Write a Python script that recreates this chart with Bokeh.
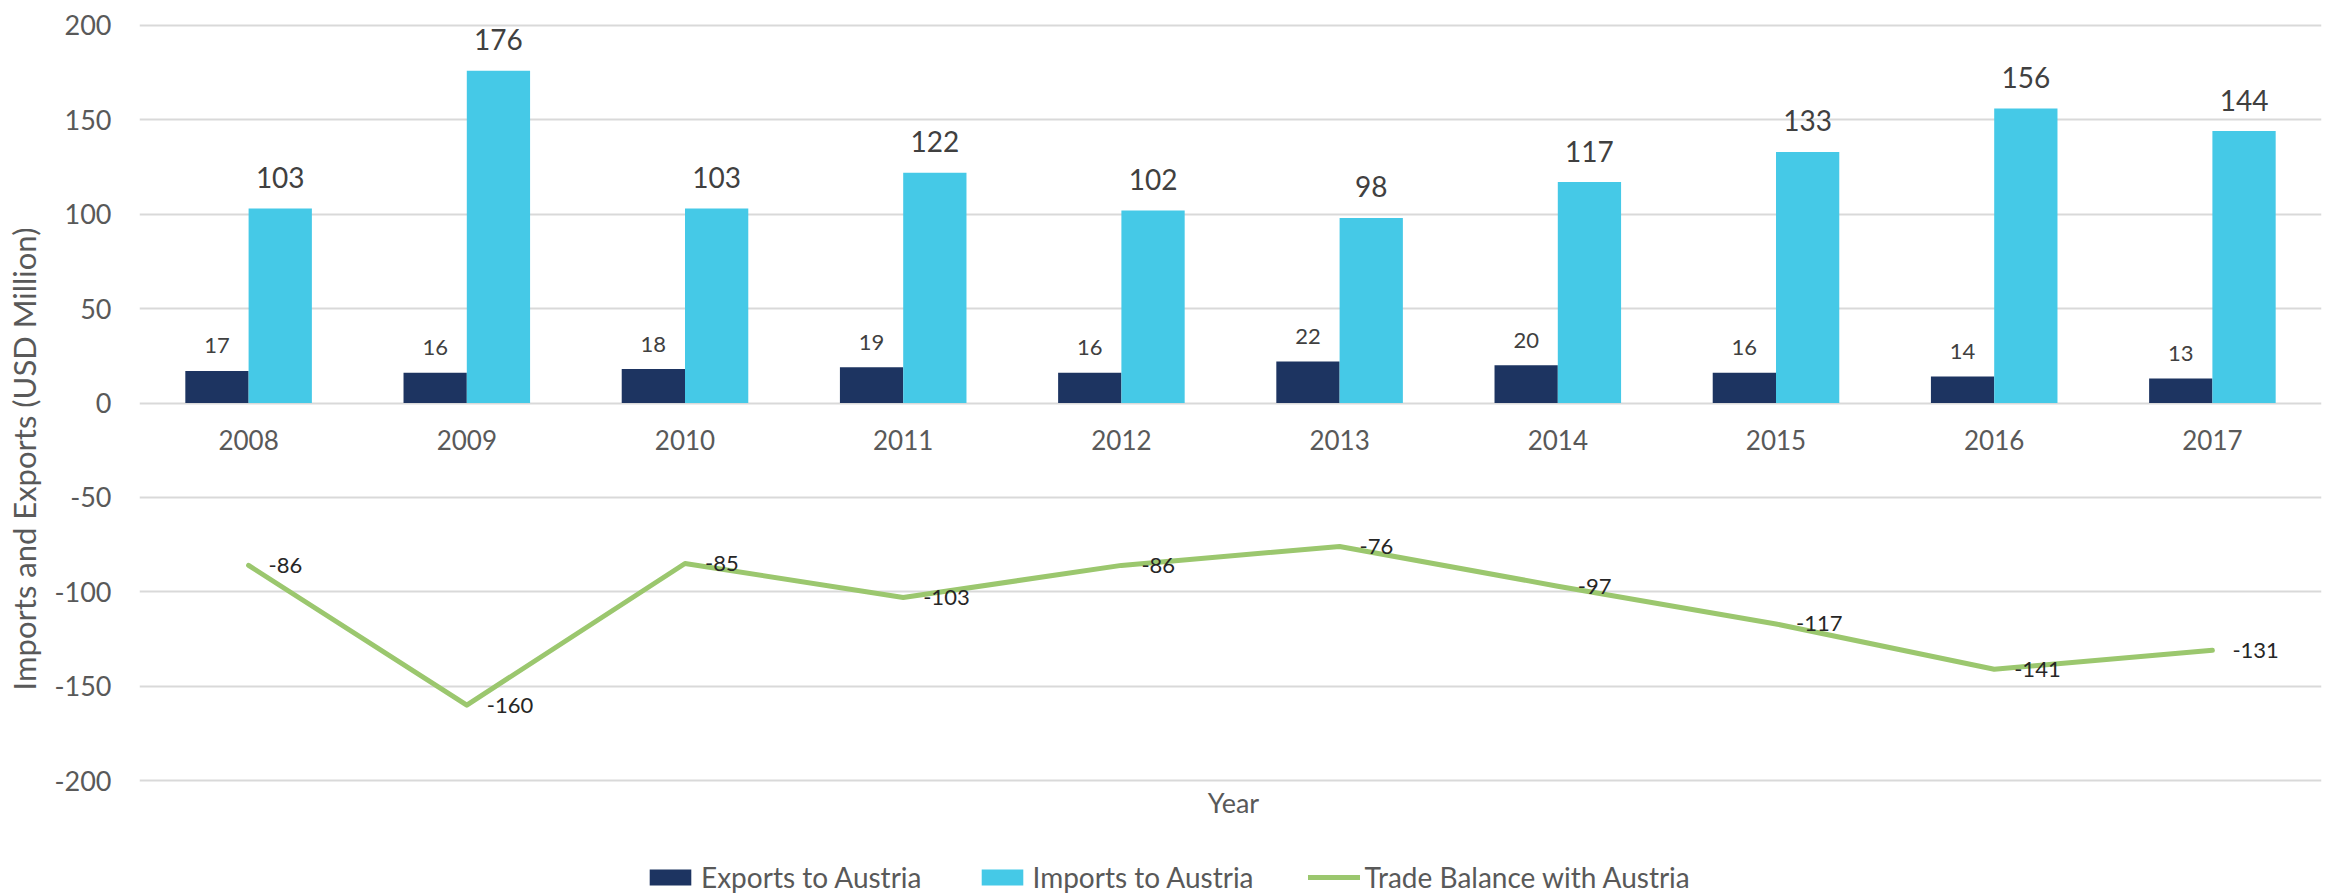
from bokeh.plotting import figure
from bokeh.models import (ColumnDataSource, FactorRange, Range1d, FixedTicker, Legend,
                          LegendItem, PrintfTickFormatter, Label)
from bokeh.transform import dodge
from bokeh.core.properties import value
from bokeh.embed import file_html
from bokeh.resources import INLINE

years = ["2008", "2009", "2010", "2011", "2012", "2013", "2014", "2015", "2016", "2017"]
exports = [17, 16, 18, 19, 16, 22, 20, 16, 14, 13]
imports = [103, 176, 103, 122, 102, 98, 117, 133, 156, 144]
balance = [-86, -160, -85, -103, -86, -76, -97, -117, -141, -131]
y_ticks = [-200, -150, -100, -50, 0, 50, 100, 150, 200]

FONT = "Lato"
NAVY = "#1D3461"
CYAN = "#45C9E7"
GREEN = "#9BC76E"
GREY = "#595959"
DARK = "#404040"

src = ColumnDataSource(dict(
    year=years, exports=exports, imports=imports, balance=balance,
    exp_lbl=[str(v) for v in exports],
    imp_lbl=[str(v) for v in imports],
    bal_lbl=[str(v) for v in balance],
    base=[0] * len(years),
))

# frame runs to the bottom edge so the legend and x title can sit inside it
p = figure(frame_width=2182, frame_height=871,
           x_range=FactorRange(*years, range_padding=0),
           y_range=Range1d(-260.3, 201),
           output_backend="svg", toolbar_location=None,
           min_border_left=139, min_border_right=7,
           min_border_top=23, min_border_bottom=0)
p.outline_line_color = None
p.background_fill_color = "white"
p.border_fill_color = "white"
p.xaxis.visible = False

# grid
p.xgrid.grid_line_color = None
p.ygrid.grid_line_color = "#D9D9D9"
p.ygrid.grid_line_width = 2
p.yaxis.ticker = FixedTicker(ticks=y_ticks)
p.yaxis.formatter = PrintfTickFormatter(format="%d")
p.yaxis.bounds = (-200, 200)

# y axis
p.yaxis.axis_line_color = None
p.yaxis.major_tick_line_color = None
p.yaxis.minor_tick_line_color = None
p.yaxis.major_tick_out = 0
p.yaxis.major_tick_in = 0
p.yaxis.major_label_standoff = 28
p.yaxis.major_label_text_font = FONT
p.yaxis.major_label_text_font_size = "27px"
p.yaxis.major_label_text_color = GREY
p.yaxis.axis_label = "Imports and Exports (USD Million)"
p.yaxis.axis_label_text_font = FONT
p.yaxis.axis_label_text_font_size = "31px"
p.yaxis.axis_label_text_font_style = "normal"
p.yaxis.axis_label_text_color = GREY
p.yaxis.axis_label_standoff = 8

bw = 0.29
r_exp = p.vbar(x=dodge("year", -bw / 2, range=p.x_range), top="exports", bottom=0,
               width=bw, fill_color=NAVY, line_color=None, source=src)
r_imp = p.vbar(x=dodge("year", bw / 2, range=p.x_range), top="imports", bottom=0,
               width=bw, fill_color=CYAN, line_color=None, source=src)
r_bal = p.line(x="year", y="balance", line_color=GREEN, line_width=5,
               line_join="round", line_cap="round", source=src)

# year labels along zero line
p.text(x="year", y="base", text="year", source=src, text_align="center",
       text_baseline="top", y_offset=27, text_font=value(FONT),
       text_font_size="26px", text_color=GREY)

# data labels
p.text(x=dodge("year", -bw / 2, range=p.x_range), y="exports", text="exp_lbl", source=src,
       text_align="center", text_baseline="alphabetic", y_offset=-25,
       text_font=value(FONT), text_font_size="22px", text_color=DARK)
p.text(x=dodge("year", bw / 2, range=p.x_range), y="imports", text="imp_lbl", source=src,
       text_align="center", text_baseline="alphabetic", y_offset=-31,
       text_font=value(FONT), text_font_size="28px", text_color=DARK)
p.text(x="year", y="balance", text="bal_lbl", source=src,
       text_align="left", text_baseline="middle", x_offset=20,
       text_font=value(FONT), text_font_size="22px", text_color="#262626")

# x-axis title
p.add_layout(Label(x=1094, y=92, x_units="screen", y_units="screen", text="Year",
                   text_align="center", text_baseline="middle", text_font=FONT,
                   text_font_size="27px", text_color=GREY))

legend = Legend(items=[
    LegendItem(label="Exports to Austria", renderers=[r_exp]),
    LegendItem(label="Imports to Austria", renderers=[r_imp]),
    LegendItem(label="Trade Balance with Austria", renderers=[r_bal]),
], orientation="horizontal", location=(505, 0))
legend.label_text_font = FONT
legend.label_text_font_size = "28px"
legend.label_text_color = GREY
legend.glyph_width = 52
legend.glyph_height = 20
legend.label_standoff = 5
legend.spacing = 54
legend.border_line_color = None
legend.background_fill_alpha = 0
legend.padding = 0
legend.margin = 0
p.add_layout(legend, "center")

open("out.html", "w").write(file_html(p, INLINE))
